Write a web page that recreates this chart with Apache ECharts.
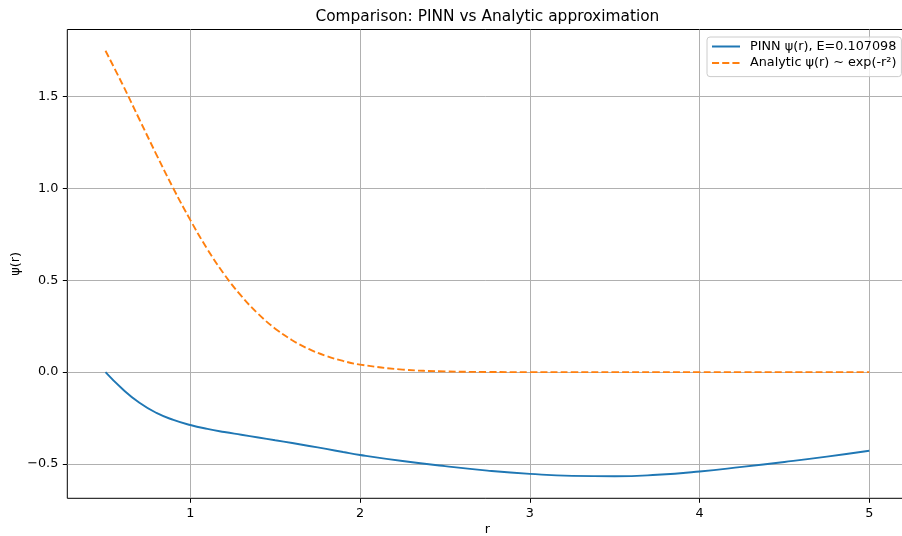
<!DOCTYPE html>
<html>
<head>
<meta charset="utf-8">
<script src="https://cdn.jsdelivr.net/npm/echarts@6/dist/echarts.min.js"></script>
<style>
html,body{margin:0;padding:0;background:#fff;}
#chart{width:902px;height:536px;}
</style>
</head>
<body>
<div id="chart"></div>
<script>
// Data
const rValues = [0.5,0.6,0.7,0.8,0.9,1.0,1.1,1.2,1.3,1.4,1.5,1.6,1.7,1.8,1.9,2.0,2.25,2.5,2.75,3.0,3.25,3.5,3.75,4.0,4.25,4.5,4.75,5.0];
const pinnValues = [0.000,-0.092,-0.167,-0.222,-0.260,-0.288,-0.309,-0.326,-0.341,-0.356,-0.371,-0.386,-0.402,-0.418,-0.435,-0.451,-0.484,-0.512,-0.536,-0.554,-0.565,-0.567,-0.559,-0.541,-0.516,-0.489,-0.460,-0.428];
const analyticValues = [1.750,1.568,1.376,1.185,1.000,0.828,0.670,0.532,0.415,0.317,0.237,0.174,0.125,0.088,0.061,0.041,0.014,0.004,0.001,0.000,0.000,0.000,0.000,0.000,0.000,0.000,0.000,0.000];
const xTicks = [1,2,3,4,5];
const yTicks = [-0.5,0.0,0.5,1.0,1.5];
const seriesNames = ['PINN ψ(r), E=0.107098', 'Analytic ψ(r) ~ exp(-r²)'];
const titleText = 'Comparison: PINN vs Analytic approximation';
const xLabel = 'r';
const yLabel = 'ψ(r)';

const FONT = 'DejaVu Sans';
const FS = 12.8;
const chart = echarts.init(document.getElementById('chart'), null, {renderer: 'canvas'});

const gridLeft = 67.3, gridTop = 29.5, gridW = 840.2, gridH = 468.8;

function pairs(xs, ys){ return xs.map((x,i)=>[x, ys[i]]); }

const option = {
  animation: false,
  backgroundColor: '#ffffff',
  textStyle: {fontFamily: FONT},
  grid: {
    left: gridLeft, top: gridTop, width: gridW, height: gridH,
    show: true, borderColor: '#000000', borderWidth: 1, backgroundColor: 'transparent',
    containLabel: false, outerBoundsMode: 'none'
  },
  xAxis: {
    type: 'value', min: 0.275, max: 5.225,
    axisLine: {show: false, onZero: false},
    axisTick: {show: true, inside: false, length: 4.5, lineStyle: {color: '#000', width: 1}, customValues: xTicks},
    axisLabel: {show: true, margin: 8.5, color: '#000', fontSize: FS, fontFamily: FONT, customValues: xTicks,
      formatter: v => String(v)},
    splitLine: {show: true, lineStyle: {color: '#b0b0b0', width: 1}}
  },
  yAxis: {
    type: 'value', min: -0.687, max: 1.866,
    axisLine: {show: false, onZero: false},
    axisTick: {show: true, inside: false, length: 4.5, lineStyle: {color: '#000', width: 1}, customValues: yTicks},
    axisLabel: {show: true, margin: 9, color: '#000', fontSize: FS, fontFamily: FONT, customValues: yTicks,
      formatter: v => (v < 0 ? '\u2212' : '') + Math.abs(v).toFixed(1)},
    splitLine: {show: true, lineStyle: {color: '#b0b0b0', width: 1}}
  },
  legend: {
    show: true, orient: 'vertical', left: 707, top: 37,
    padding: [3, 5, 7, 4], itemGap: 3.6, itemWidth: 28, itemHeight: 14,
    backgroundColor: 'rgba(255,255,255,0.8)', borderColor: '#cccccc', borderWidth: 1, borderRadius: 3,
    itemStyle: {opacity: 0, borderWidth: 0},
    textStyle: {color: '#000', fontSize: FS, fontFamily: FONT, padding: [0,0,0,5]},
    data: seriesNames
  },
  series: [
    {
      name: seriesNames[0], type: 'line', data: pairs(rValues, pinnValues),
      symbol: 'none', showSymbol: false, smooth: 0.5,
      lineStyle: {color: '#1f77b4', width: 1.9}, itemStyle: {color: '#1f77b4'}
    },
    {
      name: seriesNames[1], type: 'line', data: pairs(rValues, analyticValues),
      symbol: 'none', showSymbol: false, smooth: 0.4,
      lineStyle: {color: '#ff7f0e', width: 1.9, type: [7.1, 3.1]}, itemStyle: {color: '#ff7f0e'}
    }
  ],
  graphic: [
    {type: 'text', x: gridLeft + gridW/2, y: 16.5, silent: true,
      style: {text: titleText, fill: '#000', font: '15.4px "DejaVu Sans"', textAlign: 'center', textVerticalAlign: 'middle'}},
    {type: 'text', x: gridLeft + gridW/2, y: 529.5, silent: true,
      style: {text: xLabel, fill: '#000', font: FS + 'px "DejaVu Sans"', textAlign: 'center', textVerticalAlign: 'middle'}},
    {type: 'text', x: 15.5, y: gridTop + gridH/2, rotation: Math.PI/2, silent: true,
      style: {text: yLabel, fill: '#000', font: FS + 'px "DejaVu Sans"', textAlign: 'center', textVerticalAlign: 'middle'}}
  ]
};
chart.setOption(option);
</script>
</body>
</html>
